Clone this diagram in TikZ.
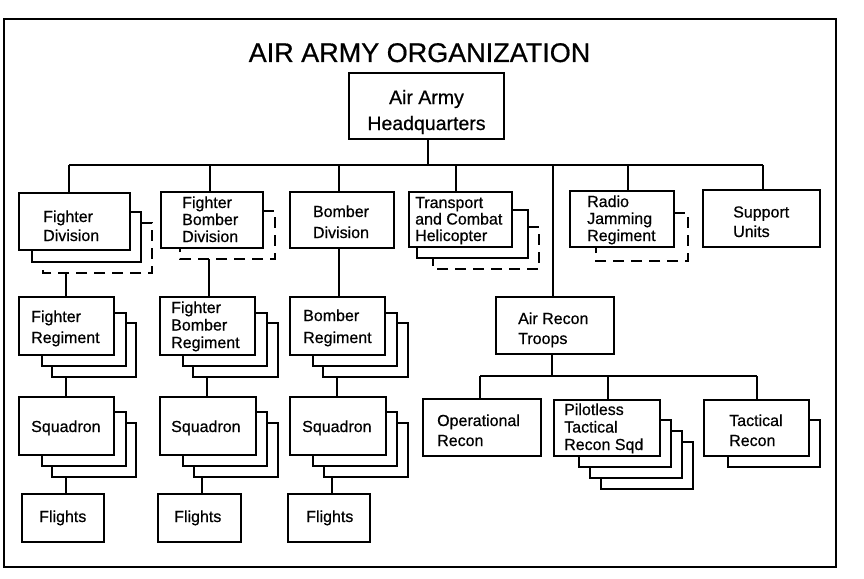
\documentclass[tikz,border=0pt]{standalone}
\usepackage{fontspec}
\setmainfont{Liberation Sans}[BoldFont=Liberation Sans, BoldFeatures={FakeBold=0.6}]
\usetikzlibrary{calc}
\tikzset{
  box/.style={draw, line width=1.6pt, inner sep=0pt, fill=white},
  lay/.style={line width=1.6pt},
  dlay/.style={line width=1.6pt, dash pattern=on 11pt off 7pt},
  lbl/.style={inner sep=0pt, anchor=base west, align=left, font=\fontsize{16}{#1}\selectfont\bfseries},
  lbl/.default=19,
  conn/.style={line width=1.6pt},
}
\newcommand\bx[5]{\node[box, minimum width={(#4-#2)*1pt}, minimum height={(#5-#3)*1pt}] (#1) at ({(#2+#4)/2},{(#3+#5)/2}) {};}
\newcommand\layr[7][lay]{\draw[#1] (#2,#3) -- (#4,#3) -- (#4,#5) -- (#6,#5) -- (#6,#7);}
\begin{document}
\begin{tikzpicture}[x=1pt,y=-1pt]
\useasboundingbox (0,0) rectangle (864,578);
\draw[line width=2.3pt] (4,19) rectangle (836,567);
\node[inner sep=0pt, anchor=base, font=\fontsize{27}{32}\selectfont\bfseries] (title) at (419.5,62) {AIR ARMY ORGANIZATION};
% coordinates for connectors
\coordinate (b1) at (69,165);
\coordinate (b2) at (210,165);
\coordinate (b3) at (339,165);
\coordinate (bhq) at (428,165);
\coordinate (b4) at (456,165);
\coordinate (bar) at (553,165);
\coordinate (b6) at (628,165);
\coordinate (b7) at (763,165);
\coordinate (fdivb) at (66,273);
\coordinate (fregb) at (66,377);
\coordinate (fsqb) at (66,477);
\coordinate (fbdivb) at (209,259);
\coordinate (fbregb) at (207,377);
\coordinate (fbsqb) at (202,477);
\coordinate (bx1) at (339,0);
\coordinate (bregb) at (337,377);
\coordinate (bsqb) at (332,477);
\coordinate (r0) at (552,376);
\coordinate (r1) at (480,376);
\coordinate (r2) at (608,376);
\coordinate (r3) at (757,376);
% boxes
\bx{hq}{349}{73}{504}{139}
\bx{fdiv}{19}{193}{130}{250}
\bx{fbdiv}{161}{192}{263}{248}
\bx{bdiv}{290}{192}{394}{248}
\bx{tdiv}{409}{192}{512}{247}
\bx{rjr}{570}{191}{674}{247}
\bx{sup}{703}{190}{820}{247}
\bx{freg}{19}{297}{114}{355}
\bx{fbreg}{160}{297}{255}{355}
\bx{breg}{290}{297}{385}{355}
\bx{fsq}{19}{397}{114}{455}
\bx{fbsq}{160}{397}{256}{455}
\bx{bsq}{290}{397}{386}{455}
\bx{ffl}{22}{494}{104}{542}
\bx{fbfl}{158}{494}{241}{542}
\bx{bfl}{288}{494}{370}{542}
\bx{art}{496}{297}{614}{354}
\bx{opr}{423}{399}{541}{456}
\bx{ptr}{554}{400}{660}{456}
\bx{tcr}{704}{400}{809}{456}
% back layers
\layr{130}{212}{141}{262}{32}{250}
\layr[dlay]{141}{223}{152}{273}{43}{262}
\layr[dlay]{263}{211}{275}{259}{180}{248}
\layr{512}{210}{528}{258}{417}{247}
\layr[dlay]{528}{227}{539}{269}{433}{258}
\layr[dlay]{674}{213}{688}{261}{596}{247}
\layr{114}{313}{126}{366}{42}{355}
\layr{126}{323}{136}{377}{52}{366}
\layr{255}{313}{267}{366}{183}{355}
\layr{267}{323}{278}{377}{193}{366}
\layr{385}{313}{397}{366}{313}{355}
\layr{397}{323}{408}{377}{323}{366}
\layr{114}{412}{126}{466}{42}{455}
\layr{126}{423}{136}{477}{52}{466}
\layr{256}{412}{267}{466}{183}{455}
\layr{267}{423}{278}{477}{194}{466}
\layr{386}{412}{397}{466}{313}{455}
\layr{397}{423}{408}{477}{324}{466}
\layr{660}{420}{671}{467}{579}{456}
\layr{671}{431}{682}{478}{590}{467}
\layr{682}{442}{693}{489}{601}{478}
\layr{809}{420}{820}{467}{728}{456}
% connectors
\draw[conn] (b1) -- (b7);
\draw[conn] (hq.south -| bhq) -- (bhq);
\draw[conn] (b1) -- (fdiv.north -| b1);
\draw[conn] (b2) -- (fbdiv.north -| b2);
\draw[conn] (b3) -- (bdiv.north -| b3);
\draw[conn] (b4) -- (tdiv.north -| b4);
\draw[conn] (bar) -- (art.north -| bar);
\draw[conn] (b6) -- (rjr.north -| b6);
\draw[conn] (b7) -- (sup.north -| b7);
\draw[conn] (fdivb) -- (freg.north -| fdivb);
\draw[conn] (fregb) -- (fsq.north -| fregb);
\draw[conn] (fsqb) -- (ffl.north -| fsqb);
\draw[conn] (fbdivb) -- (fbreg.north -| fbdivb);
\draw[conn] (fbregb) -- (fbsq.north -| fbregb);
\draw[conn] (fbsqb) -- (fbfl.north -| fbsqb);
\draw[conn] (bdiv.south -| bx1) -- (breg.north -| bx1);
\draw[conn] (bregb) -- (bsq.north -| bregb);
\draw[conn] (bsqb) -- (bfl.north -| bsqb);
\draw[conn] (art.south -| r0) -- (r0);
\draw[conn] (r1) -- (r3);
\draw[conn] (r1) -- (opr.north -| r1);
\draw[conn] (r2) -- (ptr.north -| r2);
\draw[conn] (r3) -- (tcr.north -| r3);
% texts (anchor = baseline of the last line)
\node[inner sep=0pt, anchor=base, align=center, font=\fontsize{19.5}{26}\selectfont\bfseries] (thq) at (426.5,130) {Air Army\\Headquarters};
\node[lbl] (tfdiv) at (43,241) {Fighter\\Division};
\node[lbl=17] (tfbdiv) at (182,242) {Fighter\\Bomber\\Division};
\node[lbl=21, anchor=base, align=center] (tbdiv) at (341,238) {Bomber\\Division};
\node[lbl=16.5] (ttdiv) at (415,241) {Transport\\and Combat\\Helicopter};
\node[lbl=17] (trjr) at (587,241) {Radio\\Jamming\\Regiment};
\node[lbl=19.5] (tsup) at (733,237) {Support\\Units};
\node[lbl=21] (tfreg) at (31,343) {Fighter\\Regiment};
\node[lbl=17.5] (tfbreg) at (171,348) {Fighter\\Bomber\\Regiment};
\node[lbl=22] (tbreg) at (303,343) {Bomber\\Regiment};
\node[lbl] (tfsq) at (31,432) {Squadron};
\node[lbl] (tfbsq) at (171,432) {Squadron};
\node[lbl] (tbsq) at (302,432) {Squadron};
\node[lbl] (tffl) at (39,522) {Flights};
\node[lbl] (tfbfl) at (174,522) {Flights};
\node[lbl] (tbfl) at (306,522) {Flights};
\node[lbl=20] (tart) at (518,344) {Air Recon\\Troops};
\node[lbl=20] (topr) at (437,446) {Operational\\Recon};
\node[lbl=17.5] (tptr) at (564,450) {Pilotless\\Tactical\\Recon Sqd};
\node[lbl=20] (ttcr) at (729,446) {Tactical\\Recon};
\end{tikzpicture}
\end{document}
